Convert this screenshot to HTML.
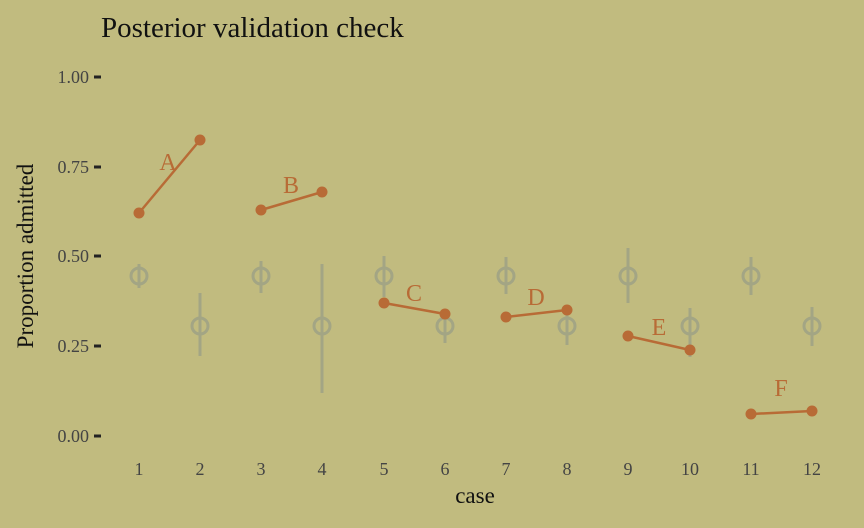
<!DOCTYPE html>
<html><head><meta charset="utf-8"><style>body{margin:0;background:#c1bb7f}</style></head><body>
<svg width="864" height="528" xmlns="http://www.w3.org/2000/svg" style="display:block;font-family:'Liberation Serif',serif">
<rect width="864" height="528" fill="#c1bb7f"/>
<text x="101" y="37" font-size="29" fill="#111">Posterior validation check</text>
<g font-size="18" fill="#444" text-anchor="end">
<text x="89" y="83">1.00</text><text x="89" y="173">0.75</text><text x="89" y="262">0.50</text><text x="89" y="352">0.25</text><text x="89" y="442">0.00</text>
</g>
<g stroke="#222" stroke-width="3"><line x1="94" x2="101" y1="77" y2="77"/><line x1="94" x2="101" y1="167" y2="167"/><line x1="94" x2="101" y1="256" y2="256"/><line x1="94" x2="101" y1="346" y2="346"/><line x1="94" x2="101" y1="436" y2="436"/></g>
<g font-size="18" fill="#444" text-anchor="middle">
<text x="139" y="475">1</text><text x="200" y="475">2</text><text x="261" y="475">3</text><text x="322" y="475">4</text><text x="384" y="475">5</text><text x="445" y="475">6</text><text x="506" y="475">7</text><text x="567" y="475">8</text><text x="628" y="475">9</text><text x="690" y="475">10</text><text x="751" y="475">11</text><text x="812" y="475">12</text>
</g>
<text x="475" y="503" font-size="23" text-anchor="middle" fill="#111">case</text>
<text transform="translate(33,256) rotate(-90)" font-size="23" text-anchor="middle" fill="#111">Proportion admitted</text>
<g stroke="#a3a584" stroke-width="3" fill="none">
<line x1="139" x2="139" y1="264" y2="288"/><circle cx="139" cy="276" r="8"/>
<line x1="200" x2="200" y1="293" y2="356"/><circle cx="200" cy="326" r="8"/>
<line x1="261" x2="261" y1="261" y2="293"/><circle cx="261" cy="276" r="8"/>
<line x1="322" x2="322" y1="264" y2="393"/><circle cx="322" cy="326" r="8"/>
<line x1="384" x2="384" y1="256" y2="297"/><circle cx="384" cy="276" r="8"/>
<line x1="445" x2="445" y1="310" y2="343"/><circle cx="445" cy="326" r="8"/>
<line x1="506" x2="506" y1="257" y2="294"/><circle cx="506" cy="276" r="8"/>
<line x1="567" x2="567" y1="306" y2="345"/><circle cx="567" cy="326" r="8"/>
<line x1="628" x2="628" y1="248" y2="303"/><circle cx="628" cy="276" r="8"/>
<line x1="690" x2="690" y1="308" y2="357"/><circle cx="690" cy="326" r="8"/>
<line x1="751" x2="751" y1="257" y2="295"/><circle cx="751" cy="276" r="8"/>
<line x1="812" x2="812" y1="307" y2="346"/><circle cx="812" cy="326" r="8"/>
</g>
<g stroke="#b86b36" stroke-width="2.5">
<line x1="139" y1="213" x2="200" y2="140"/><line x1="261" y1="210" x2="322" y2="192"/>
<line x1="384" y1="303" x2="445" y2="314"/><line x1="506" y1="317" x2="567" y2="310"/>
<line x1="628" y1="336" x2="690" y2="350"/><line x1="751" y1="414" x2="812" y2="411"/>
</g>
<g fill="#b86b36">
<circle cx="139" cy="213" r="5.5"/><circle cx="200" cy="140" r="5.5"/><circle cx="261" cy="210" r="5.5"/><circle cx="322" cy="192" r="5.5"/>
<circle cx="384" cy="303" r="5.5"/><circle cx="445" cy="314" r="5.5"/><circle cx="506" cy="317" r="5.5"/><circle cx="567" cy="310" r="5.5"/>
<circle cx="628" cy="336" r="5.5"/><circle cx="690" cy="350" r="5.5"/><circle cx="751" cy="414" r="5.5"/><circle cx="812" cy="411" r="5.5"/>
</g>
<g font-size="24" fill="#b86b36" text-anchor="middle">
<text x="168" y="170">A</text><text x="291" y="193">B</text><text x="414" y="301">C</text><text x="536" y="305">D</text><text x="659" y="335">E</text><text x="781" y="396">F</text>
</g>
</svg>
</body></html>
